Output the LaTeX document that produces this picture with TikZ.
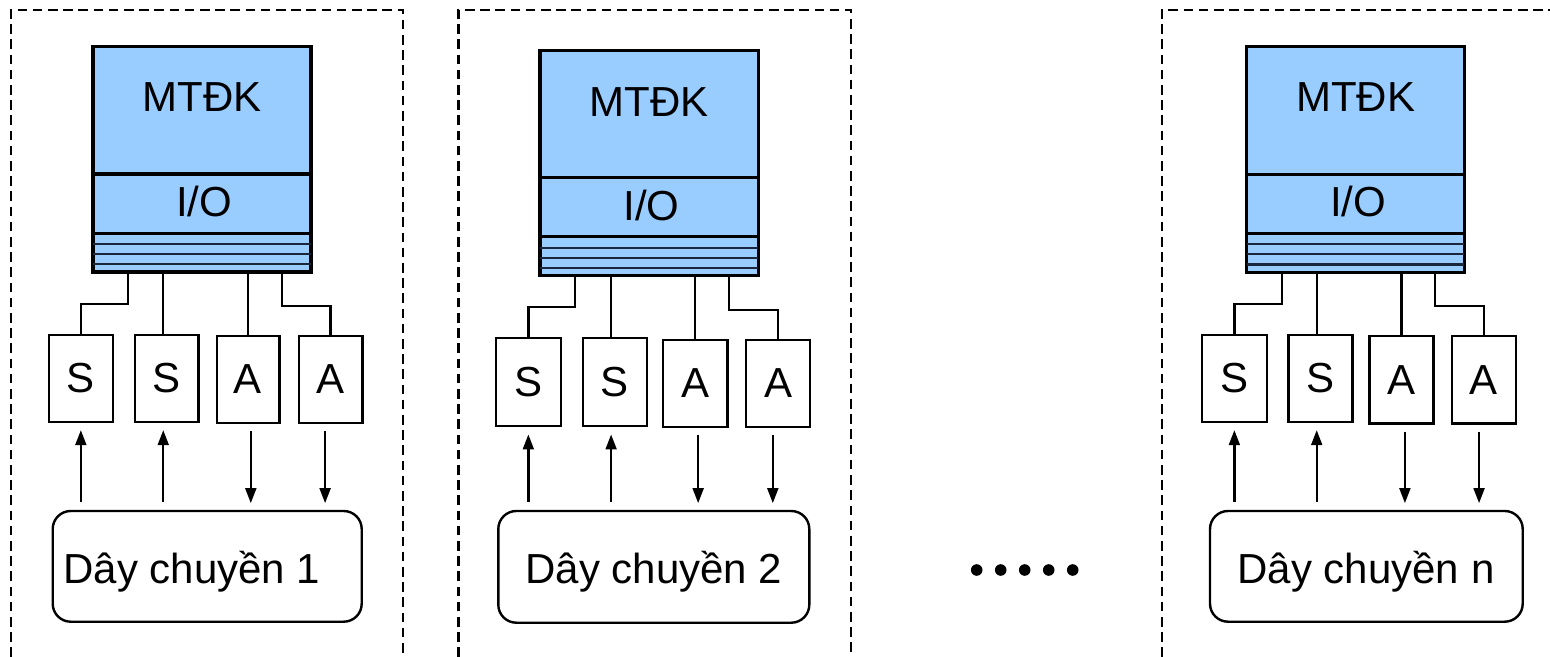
\documentclass[tikz,border=0pt]{standalone}
\usepackage{fontspec}
\setmainfont{Liberation Sans}
\usetikzlibrary{arrows.meta,fit,calc}
\definecolor{panelblue}{RGB}{153,204,255}
\definecolor{stripeline}{RGB}{25,38,60}
\tikzset{
  x=0.5pt, y=-0.5pt,
  lbl/.style={inner sep=0pt, font=\fontsize{21}{25}\selectfont},
  unit/.style={draw, fill=panelblue, line width=1.6pt, inner sep=0pt, outer sep=0pt},
  stripe/.style={draw=stripeline, line width=1.1pt},
  dev/.style={draw, line width=1.2pt, inner sep=0pt, outer sep=0pt},
  linebox/.style={draw, line width=1.2pt, rounded corners=9pt, inner sep=0pt, outer sep=0pt},
  frame/.style={draw, line width=1.2pt, dash pattern=on 4.8pt off 2.8pt},
  wire/.style={draw, line width=1.2pt},
  tip/.style={-{Triangle[length=7.5pt,width=5.4pt]}},
  upsig/.style={draw, line width=1.2pt, tip, shorten <=4.6pt, shorten >=4.2pt},
  downsig/.style={draw, line width=1.2pt, tip, shorten <=4.2pt, shorten >=3.9pt},
}
\begin{document}
\begin{tikzpicture}
\useasboundingbox (0,0) rectangle (1550,657);

% dashed station frames
\draw[frame] (11,657) -- (11,10) -- (403,10) -- (403,657);
\draw[frame] (458.3,657) -- (458.3,10) -- (851,10) -- (851,657);
\draw[frame] (1161.7,657) -- (1161.7,10) -- (1560,10);

% ---------- station 1 ----------
\node[unit, fit={(93,46.7) (311,174)}] (cpu1) {};
\node[unit, fit={(93,174) (311,233.3)}] (io1) {};
\node[unit, fit={(93,233.3) (311,272)}] (bus1) {};
\foreach \f in {0.28,0.54,0.80}
  \draw[stripe] ($(bus1.north west)!\f!(bus1.south west)$) -- ($(bus1.north east)!\f!(bus1.south east)$);
\node[lbl, anchor=base] (mt1) at (202,111.7) {MTĐK};
\node[lbl, anchor=base] (iot1) at (204,216.7) {I/O};

\node[dev, fit={(49,335) (112.7,421.7)}, label={[lbl]center:S}] (s11) {};
\node[dev, fit={(135,335) (198.3,421.7)}, label={[lbl]center:S}] (s12) {};
\node[dev, fit={(216.7,336) (279.3,422.7)}, label={[lbl]center:A}] (a11) {};
\node[dev, fit={(298.7,336) (362.3,422.7)}, label={[lbl]center:A}] (a12) {};

\draw[wire] ([xshift=17.4pt]bus1.south west) -- ++(0,32) -| (s11.north);
\draw[wire] ([xshift=-1.7pt]s12.north) -- ([xshift=-1.7pt]s12.north |- bus1.south);
\draw[wire] (a11.north) -- (a11.north |- bus1.south);
\draw[wire] ([xshift=94.5pt]bus1.south west) -- ++(0,34) -| (a12.north);

\node[linebox, fit={(52.7,511) (361.7,621.7)}] (line1) {};
\node[lbl, anchor=base west] (lt1) at (63,583) {Dây chuyền 1};

\draw[upsig] (s11.south |- line1.north) -- (s11.south);
\draw[upsig] ([xshift=-1.7pt]s12.south |- line1.north) -- ([xshift=-1.7pt]s12.south);
\draw[downsig] ([xshift=1.4pt]a11.south) -- ([xshift=1.4pt]a11.south |- line1.north);
\draw[downsig] ([xshift=-2.7pt]a12.south) -- ([xshift=-2.7pt]a12.south |- line1.north);

% ---------- station 2 ----------
\node[unit, fit={(540,50.7) (758.3,177.7)}] (cpu2) {};
\node[unit, fit={(540,177.7) (758.3,236.7)}] (io2) {};
\node[unit, fit={(540,236.7) (758.3,275.7)}] (bus2) {};
\foreach \f in {0.28,0.54,0.80}
  \draw[stripe] ($(bus2.north west)!\f!(bus2.south west)$) -- ($(bus2.north east)!\f!(bus2.south east)$);
\node[lbl, anchor=base] (mt2) at (649.2,116.7) {MTĐK};
\node[lbl, anchor=base] (iot2) at (651.5,220.7) {I/O};

\node[dev, fit={(496,338) (560.7,426)}, label={[lbl]center:S}] (s21) {};
\node[dev, fit={(582.7,338) (646.7,426)}, label={[lbl]center:S}] (s22) {};
\node[dev, fit={(663,340) (727.3,426.7)}, label={[lbl]center:A}] (a21) {};
\node[dev, fit={(746,340) (810,426.7)}, label={[lbl]center:A}] (a22) {};

\draw[wire] ([xshift=17.5pt]bus2.south west) -- ++(0,31.3) -| (s21.north);
\draw[wire] ([xshift=-1.8pt]s22.north) -- ([xshift=-1.8pt]s22.north |- bus2.south);
\draw[wire] (a21.north) -- (a21.north |- bus2.south);
\draw[wire] ([xshift=94.6pt]bus2.south west) -- ++(0,34.3) -| (a22.north);

\node[linebox, fit={(498.3,511) (809.3,622.7)}] (line2) {};
\node[lbl, anchor=base] (lt2) at (654,583.3) {Dây chuyền 2};

\draw[upsig] (s21.south |- line2.north) -- (s21.south);
\draw[upsig] ([xshift=-1.8pt]s22.south |- line2.north) -- ([xshift=-1.8pt]s22.south);
\draw[downsig] ([xshift=1.5pt]a21.south) -- ([xshift=1.5pt]a21.south |- line2.north);
\draw[downsig] ([xshift=-2.6pt]a22.south) -- ([xshift=-2.6pt]a22.south |- line2.north);

% continuation dots
\foreach \cx in {976.7,1000.7,1024.7,1048.7,1072.7}
  \fill (\cx,570) circle[radius=2.9pt];

% ---------- station n ----------
\node[unit, fit={(1246.7,46.7) (1464.3,174.3)}] (cpu3) {};
\node[unit, fit={(1246.7,174.3) (1464.3,233.3)}] (io3) {};
\node[unit, fit={(1246.7,233.3) (1464.3,272.3)}] (bus3) {};
\foreach \f in {0.28,0.54,0.80}
  \draw[stripe] ($(bus3.north west)!\f!(bus3.south west)$) -- ($(bus3.north east)!\f!(bus3.south east)$);
\node[lbl, anchor=base] (mt3) at (1355.8,111.7) {MTĐK};
\node[lbl, anchor=base] (iot3) at (1358,216.7) {I/O};

\node[dev, fit={(1202,335) (1266.7,421.7)}, label={[lbl]center:S}] (s31) {};
\node[dev, fit={(1288.3,335) (1352.3,421.7)}, label={[lbl]center:S}] (s32) {};
\node[dev, fit={(1369.3,336) (1433.3,423.3)}, label={[lbl]center:A}] (a31) {};
\node[dev, fit={(1451.7,336) (1516,423.3)}, label={[lbl]center:A}] (a32) {};

\draw[wire] ([xshift=17.5pt]bus3.south west) -- ++(0,31.7) -| (s31.north);
\draw[wire] ([xshift=-1.8pt]s32.north) -- ([xshift=-1.8pt]s32.north |- bus3.south);
\draw[wire] (a31.north) -- (a31.north |- bus3.south);
\draw[wire] ([xshift=94.2pt]bus3.south west) -- ++(0,33.7) -| (a32.north);

\node[linebox, fit={(1210,511) (1522.7,621.7)}] (line3) {};
\node[lbl, anchor=base] (lt3) at (1366,583) {Dây chuyền n};

\draw[upsig] (s31.south |- line3.north) -- (s31.south);
\draw[upsig] ([xshift=-1.8pt]s32.south |- line3.north) -- ([xshift=-1.8pt]s32.south);
\draw[downsig] ([xshift=1.8pt]a31.south) -- ([xshift=1.8pt]a31.south |- line3.north);
\draw[downsig] ([xshift=-2.4pt]a32.south) -- ([xshift=-2.4pt]a32.south |- line3.north);
\end{tikzpicture}
\end{document}
